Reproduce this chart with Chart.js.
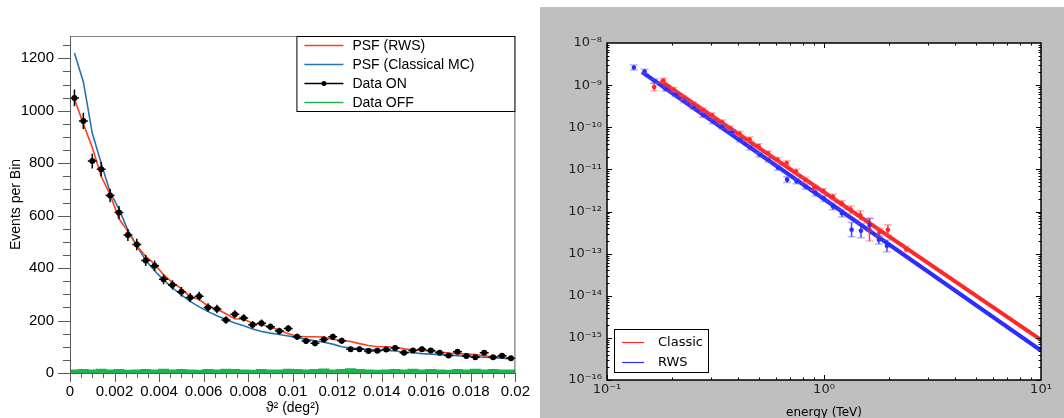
<!DOCTYPE html>
<html lang="en">
<head>
<meta charset="UTF-8">
<title>PSF and spectra</title>
<style>
  body { margin: 0; background: #fff; width: 1064px; height: 418px; overflow: hidden; position: relative; }
  #psfBox { position: absolute; left: 0; top: 0; width: 540px; height: 418px; }
  #specBox { position: absolute; left: 540px; top: 7px; width: 524px; height: 420px; background: #bfbfbf; }
</style>
<script src="https://cdn.jsdelivr.net/npm/chart.js@4.4.0/dist/chart.umd.min.js"></script>
</head>
<body>
<div id="psfBox"><canvas id="psfChart" width="540" height="418"></canvas></div>
<div id="specBox"><canvas id="specChart" width="524" height="420"></canvas></div>

<script>
// ---------- left panel: theta^2 distribution ----------
const thetaBins = [
  0.0002, 0.0006, 0.0010, 0.0014, 0.0018, 0.0022, 0.0026, 0.0030, 0.0034, 0.0038,
  0.0042, 0.0046, 0.0050, 0.0054, 0.0058, 0.0062, 0.0066, 0.0070, 0.0074, 0.0078,
  0.0082, 0.0086, 0.0090, 0.0094, 0.0098, 0.0102, 0.0106, 0.0110, 0.0114, 0.0118,
  0.0122, 0.0126, 0.0130, 0.0134, 0.0138, 0.0142, 0.0146, 0.0150, 0.0154, 0.0158,
  0.0162, 0.0166, 0.0170, 0.0174, 0.0178, 0.0182, 0.0186, 0.0190, 0.0194, 0.0198
];
const binHalfWidth = 0.0002;
const dataOn = [
  1049, 961, 808, 777, 677, 612, 526, 490, 429, 409,
  357, 336, 310, 288, 293, 250, 244, 202, 224, 210,
  184, 190, 176, 160, 170, 138, 122, 113, 128, 138,
  123, 91, 91, 84, 85, 90, 95, 77, 86, 91,
  86, 77, 67, 81, 65, 60, 77, 60, 66, 56
];
const dataOnErr = [
  32, 31, 28, 28, 26, 25, 23, 22, 21, 20,
  19, 18, 18, 17, 17, 16, 16, 14, 15, 14,
  14, 14, 13, 13, 13, 12, 11, 11, 11, 12,
  11, 10, 10, 9, 9, 9, 10, 9, 9, 10,
  9, 9, 8, 9, 8, 8, 9, 8, 8, 7
];
const psfRws = [
  1045, 950, 860, 750, 680, 588, 540, 485, 445, 415,
  375, 345, 322, 290, 281, 255, 244, 226, 207, 205,
  190, 185, 175, 163, 150, 140, 138, 138, 137, 128,
  125, 120, 112, 105, 100, 100, 98, 92, 88, 86,
  84, 80, 76, 74, 72, 70, 66, 62, 60, 57
];
const psfClassical = [
  1220, 1110, 915, 800, 690, 625, 545, 485, 430, 390,
  355, 325, 298, 273, 252, 234, 218, 204, 191, 180,
  168, 158, 152, 147, 141, 135, 129, 123, 117, 110,
  100, 95, 92, 90, 88, 86, 84, 80, 77, 74,
  72, 70, 68, 66, 64, 62, 60, 58, 56, 54
];
const dataOff = [
  10, 11, 10, 12, 10, 11, 9, 10, 11, 10,
  12, 10, 11, 10, 9, 11, 10, 12, 11, 10,
  9, 11, 10, 10, 12, 11, 10, 11, 13, 10,
  11, 14, 11, 10, 9, 10, 11, 10, 12, 10,
  11, 10, 9, 11, 10, 12, 10, 11, 10, 10
];
const psfYTicks = [0, 200, 400, 600, 800, 1000, 1200];
const psfXTicks = [0, 0.002, 0.004, 0.006, 0.008, 0.01, 0.012, 0.014, 0.016, 0.018, 0.02];

// ---------- right panel: spectra ----------
const classicEnergy = [0.165, 0.182, 0.203, 0.225, 0.249, 0.276, 0.305, 0.339, 0.370, 0.408,
  0.454, 0.500, 0.552, 0.610, 0.673, 0.743, 0.820, 0.902, 0.994, 1.10,
  1.21, 1.33, 1.47, 1.62, 1.80, 1.97, 2.39];
const classicFlux = [9.0e-10, 1.29e-9, 7.8e-10, 5.0e-10, 3.6e-10, 2.6e-10, 1.95e-10, 1.33e-10, 9.5e-11, 7.1e-11,
  5.2e-11, 3.6e-11, 2.43e-11, 1.7e-11, 1.42e-11, 8.9e-12, 5.7e-12, 3.7e-12, 3.07e-12, 2.23e-12,
  1.55e-12, 1.1e-12, 8.1e-13, 3.7e-13, 3.2e-13, 3.7e-13, 1.28e-13];
const classicErrDex = [0.09, 0.05, 0.05, 0.05, 0.05, 0.05, 0.05, 0.05, 0.05, 0.05,
  0.05, 0.05, 0.05, 0.05, 0.05, 0.06, 0.06, 0.06, 0.06, 0.07,
  0.07, 0.09, 0.11, 0.27, 0.10, 0.12, 0.07];
const rwsEnergy = [0.133, 0.149, 0.166, 0.186, 0.207, 0.227, 0.251, 0.277, 0.308, 0.339,
  0.377, 0.411, 0.457, 0.505, 0.555, 0.614, 0.676, 0.748, 0.822, 0.915,
  1.00, 1.10, 1.21, 1.34, 1.48, 1.62, 1.79, 1.95];
const rwsFlux = [2.63e-9, 2.12e-9, 1.25e-9, 8.1e-10, 6.0e-10, 4.3e-10, 3.0e-10, 1.95e-10, 1.35e-10, 1.03e-10,
  7.7e-11, 5.0e-11, 3.3e-11, 2.22e-11, 1.67e-11, 1.09e-11, 5.7e-12, 5.2e-12, 3.9e-12, 2.73e-12,
  2.02e-12, 1.32e-12, 9.1e-13, 3.7e-13, 3.5e-13, 4.8e-13, 2.13e-13, 1.53e-13];
const rwsErrDex = [0.06, 0.05, 0.05, 0.05, 0.05, 0.05, 0.05, 0.05, 0.05, 0.05,
  0.05, 0.05, 0.05, 0.05, 0.05, 0.06, 0.07, 0.06, 0.06, 0.07,
  0.07, 0.08, 0.09, 0.17, 0.17, 0.15, 0.10, 0.14];
const classicFitE = [0.176, 10];
const classicFitF = [1.27e-9, 8.97e-16];
const rwsFitE = [0.145, 10];
const rwsFitF = [2.05e-9, 5.0e-16];
const specYTicks = [1e-16, 1e-15, 1e-14, 1e-13, 1e-12, 1e-11, 1e-10, 1e-9, 1e-8];
const specXTicks = [0.1, 1, 10];

const RED = '#ff3f1a', BLUE = '#2474b5', GREEN = '#1db34f';
const SRED = 'rgb(255,40,40)', SBLUE = 'rgb(45,45,255)';
const HELV = '"Liberation Sans", Arial, sans-serif';
const VERA = '"DejaVu Sans", sans-serif';

const pts = (xs, ys) => xs.map((v, i) => ({x: v, y: ys[i]}));

// green histogram drawn from the bin edges
const offSteps = thetaBins.map((c, i) => ({x: c - binHalfWidth, y: dataOff[i]}));
offSteps.push({x: thetaBins[thetaBins.length - 1] + binHalfWidth, y: dataOff[dataOff.length - 1]});

const psfExtras = {
  id: 'psfExtras',
  afterDatasetsDraw(chart) {
    const {ctx, scales: {x, y}} = chart;
    ctx.save();
    ctx.strokeStyle = '#000';
    ctx.lineWidth = 1.5;
    thetaBins.forEach((c, i) => {
      const px = x.getPixelForValue(c), py = y.getPixelForValue(dataOn[i]);
      ctx.beginPath();
      ctx.moveTo(x.getPixelForValue(c - binHalfWidth), py);
      ctx.lineTo(x.getPixelForValue(c + binHalfWidth), py);
      ctx.moveTo(px, y.getPixelForValue(dataOn[i] - dataOnErr[i]));
      ctx.lineTo(px, y.getPixelForValue(dataOn[i] + dataOnErr[i]));
      ctx.stroke();
    });
    ctx.restore();
  },
  afterDraw(chart) {
    const {ctx, chartArea: a, scales: {x, y}} = chart;
    ctx.save();
    ctx.lineWidth = 1;
    // frame
    ctx.strokeStyle = '#8a8a8a';
    ctx.beginPath();
    ctx.moveTo(a.left, a.top + 0.5); ctx.lineTo(a.right, a.top + 0.5);
    ctx.stroke();
    ctx.strokeStyle = '#5a5a5a';
    ctx.beginPath();
    ctx.moveTo(a.right - 0.5, a.top); ctx.lineTo(a.right - 0.5, a.bottom);
    ctx.moveTo(a.left + 0.5, a.top); ctx.lineTo(a.left + 0.5, a.bottom + 0.5);
    ctx.lineTo(a.right, a.bottom + 0.5);
    ctx.stroke();
    // outward ticks
    ctx.beginPath();
    for (let v = 0; v <= y.max; v += 50) {
      const py = Math.round(y.getPixelForValue(v)) + 0.5;
      const len = v % 200 === 0 ? 12 : 7;
      ctx.moveTo(a.left - len, py); ctx.lineTo(a.left, py);
    }
    for (let k = 0; k <= 40; k++) {
      const px = Math.round(x.getPixelForValue(k * 0.0005)) + 0.5;
      const len = k % 4 === 0 ? 9 : 5;
      ctx.moveTo(px, a.bottom); ctx.lineTo(px, a.bottom + len);
    }
    ctx.stroke();
    // legend
    const w = 219, h = 76, left = a.right - w, top = a.top;
    ctx.fillStyle = '#fff';
    ctx.fillRect(left, top, w, h);
    ctx.strokeStyle = '#000';
    ctx.strokeRect(left + 0.5, top + 0.5, w - 1, h - 1);
    ctx.font = '14px ' + HELV;
    ctx.textBaseline = 'middle';
    chart.data.datasets.forEach((ds, i) => {
      const ry = top + 9.5 + i * 19;
      ctx.strokeStyle = ds.borderColor;
      ctx.lineWidth = 1.5;
      ctx.beginPath(); ctx.moveTo(left + 8, ry); ctx.lineTo(left + 47, ry); ctx.stroke();
      if (ds.showLine === false) {
        ctx.fillStyle = ds.borderColor;
        ctx.beginPath(); ctx.arc(left + 27.5, ry, 2.5, 0, Math.PI * 2); ctx.fill();
      }
      ctx.fillStyle = '#000';
      ctx.fillText(ds.label, left + 56, ry + 0.5);
    });
    ctx.restore();
  }
};

new Chart(document.getElementById('psfChart'), {
  type: 'line',
  data: {
    datasets: [
      { label: 'PSF (RWS)', data: pts(thetaBins, psfRws), borderColor: RED, borderWidth: 1.6, pointRadius: 0, order: 1 },
      { label: 'PSF (Classical MC)', data: pts(thetaBins, psfClassical), borderColor: BLUE, borderWidth: 1.6, pointRadius: 0, order: 2 },
      { label: 'Data ON', data: pts(thetaBins, dataOn), showLine: false, borderColor: '#000', backgroundColor: '#000', pointRadius: 3, pointBorderWidth: 0, order: 0 },
      { label: 'Data OFF', data: offSteps, stepped: 'before', fill: 'origin', borderColor: GREEN, backgroundColor: GREEN, borderWidth: 2, pointRadius: 0, order: 3 }
    ]
  },
  options: {
    responsive: false,
    animation: false,
    devicePixelRatio: 1,
    layout: { padding: { top: 36, right: 21, left: 0, bottom: 0 } },
    plugins: { legend: { display: false }, tooltip: { enabled: false } },
    scales: {
      x: {
        type: 'linear', min: 0, max: 0.02,
        afterFit: s => { s.height = 45; },
        afterBuildTicks: s => { s.ticks = psfXTicks.map(v => ({value: v})); },
        grid: { display: false, drawTicks: false },
        border: { display: false },
        ticks: { padding: 10, maxRotation: 0, autoSkip: false, color: '#000', font: { size: 15, family: HELV },
                 callback: v => String(+v.toFixed(3)) },
        title: { display: true, text: 'ϑ² (deg²)', color: '#000', font: { size: 14, family: HELV }, padding: { top: 0, bottom: 1 } }
      },
      y: {
        type: 'linear', min: 0, max: 1285,
        afterFit: s => { s.width = 70; },
        afterBuildTicks: s => { s.ticks = psfYTicks.map(v => ({value: v})); },
        grid: { display: false, drawTicks: false },
        border: { display: false },
        ticks: { padding: 16, color: '#000', font: { size: 15, family: HELV }, callback: v => String(v) },
        title: { display: true, text: 'Events per Bin', color: '#000', font: { size: 14, family: HELV }, padding: { top: 8, bottom: 0 } }
      }
    }
  },
  plugins: [psfExtras]
});

// ---------- right chart ----------
const SUP = {'-': '⁻', '0': '⁰', '1': '¹', '2': '²', '3': '³', '4': '⁴', '5': '⁵', '6': '⁶', '7': '⁷', '8': '⁸', '9': '⁹'};
function powLabel(v) {
  const e = String(Math.round(Math.log10(v)));
  return '10' + e.split('').map(c => SUP[c]).join('');
}

function drawLogErrors(ctx, x, y, es, fs, errs, solid, pale) {
  es.forEach((e, i) => {
    const px = x.getPixelForValue(e);
    const lo = y.getPixelForValue(fs[i] / Math.pow(10, errs[i]));
    const hi = y.getPixelForValue(fs[i] * Math.pow(10, errs[i]));
    ctx.strokeStyle = solid;
    ctx.lineWidth = 1.5;
    ctx.beginPath(); ctx.moveTo(px, lo); ctx.lineTo(px, hi); ctx.stroke();
    ctx.strokeStyle = pale;
    ctx.beginPath();
    ctx.moveTo(px - 4, lo); ctx.lineTo(px + 4, lo);
    ctx.moveTo(px - 4, hi); ctx.lineTo(px + 4, hi);
    ctx.stroke();
  });
}

const specExtras = {
  id: 'specExtras',
  beforeDraw(chart) {
    const {ctx, chartArea: a} = chart;
    ctx.save();
    ctx.fillStyle = '#fff';
    ctx.fillRect(a.left, a.top, a.right - a.left, a.bottom - a.top);
    ctx.restore();
  },
  afterDatasetsDraw(chart) {
    const {ctx, scales: {x, y}} = chart;
    ctx.save();
    drawLogErrors(ctx, x, y, classicEnergy, classicFlux, classicErrDex, 'rgba(255,40,40,0.9)', 'rgba(255,90,90,0.45)');
    drawLogErrors(ctx, x, y, rwsEnergy, rwsFlux, rwsErrDex, 'rgba(45,45,255,0.9)', 'rgba(90,90,255,0.45)');
    ctx.restore();
  },
  afterDraw(chart) {
    const {ctx, chartArea: a, scales: {x, y}} = chart;
    ctx.save();
    ctx.strokeStyle = '#000';
    ctx.lineWidth = 1;
    ctx.beginPath();
    // inward ticks on all four sides
    for (let d = -16; d < -8; d++) {
      for (let m = 1; m <= 9; m++) {
        const py = Math.round(y.getPixelForValue(m * Math.pow(10, d))) + 0.5;
        const len = m === 1 ? 5 : 2.5;
        ctx.moveTo(a.left, py); ctx.lineTo(a.left + len, py);
        ctx.moveTo(a.right, py); ctx.lineTo(a.right - len, py);
      }
    }
    for (let d = -1; d < 1; d++) {
      for (let m = 1; m <= 9; m++) {
        const px = Math.round(x.getPixelForValue(m * Math.pow(10, d))) + 0.5;
        const len = m === 1 ? 5 : 2.5;
        ctx.moveTo(px, a.bottom); ctx.lineTo(px, a.bottom - len);
        ctx.moveTo(px, a.top); ctx.lineTo(px, a.top + len);
      }
    }
    ctx.stroke();
    ctx.lineWidth = 1.5;
    ctx.strokeRect(a.left, a.top, a.right - a.left, a.bottom - a.top);
    // legend
    const left = a.left + 7, w = 95, h = 44, top = a.bottom - 7 - h;
    ctx.fillStyle = '#fff';
    ctx.fillRect(left, top, w, h);
    ctx.lineWidth = 1;
    ctx.strokeStyle = '#000';
    ctx.strokeRect(left + 0.5, top + 0.5, w - 1, h - 1);
    ctx.font = '13px ' + VERA;
    ctx.textBaseline = 'middle';
    [[chart.data.datasets[0], 13.5], [chart.data.datasets[1], 33.5]].forEach(([ds, dy]) => {
      ctx.strokeStyle = ds.borderColor;
      ctx.lineWidth = 1.2;
      ctx.beginPath(); ctx.moveTo(left + 8, top + dy); ctx.lineTo(left + 30, top + dy); ctx.stroke();
      ctx.fillStyle = '#000';
      ctx.fillText(ds.label, left + 44, top + dy + 0.5);
    });
    ctx.restore();
  }
};

new Chart(document.getElementById('specChart'), {
  type: 'line',
  data: {
    datasets: [
      { label: 'Classic', data: pts(classicEnergy, classicFlux), showLine: false, borderColor: SRED, backgroundColor: SRED, pointRadius: 2.3, pointBorderWidth: 0, order: 0 },
      { label: 'RWS', data: pts(rwsEnergy, rwsFlux), showLine: false, borderColor: SBLUE, backgroundColor: SBLUE, pointRadius: 2.3, pointBorderWidth: 0, order: 1 },
      { label: 'Classic fit', data: pts(classicFitE, classicFitF), borderColor: SRED, borderWidth: 4, pointRadius: 0, order: 2 },
      { label: 'RWS fit', data: pts(rwsFitE, rwsFitF), borderColor: SBLUE, borderWidth: 4, pointRadius: 0, order: 3 }
    ]
  },
  options: {
    responsive: false,
    animation: false,
    devicePixelRatio: 1,
    layout: { padding: { top: 36, right: 23, left: 0, bottom: 0 } },
    plugins: { legend: { display: false }, tooltip: { enabled: false } },
    scales: {
      x: {
        type: 'logarithmic', min: 0.1, max: 10,
        afterFit: s => { s.height = 47; },
        afterBuildTicks: s => { s.ticks = specXTicks.map(v => ({value: v})); },
        grid: { display: false, drawTicks: false },
        border: { display: false },
        ticks: { padding: 2, maxRotation: 0, autoSkip: false, color: '#222', font: { size: 13, family: VERA }, callback: v => powLabel(v) },
        title: { display: true, text: 'energy (TeV)', color: '#000', font: { size: 12, family: VERA }, padding: { top: 0, bottom: 7 } }
      },
      y: {
        type: 'logarithmic', min: 1e-16, max: 1e-8,
        afterFit: s => { s.width = 67; },
        afterBuildTicks: s => { s.ticks = specYTicks.map(v => ({value: v})); },
        grid: { display: false, drawTicks: false },
        border: { display: false },
        ticks: { padding: 5, autoSkip: false, color: '#222', font: { size: 13, family: VERA }, callback: v => powLabel(v) }
      }
    }
  },
  plugins: [specExtras]
});
</script>
</body>
</html>
